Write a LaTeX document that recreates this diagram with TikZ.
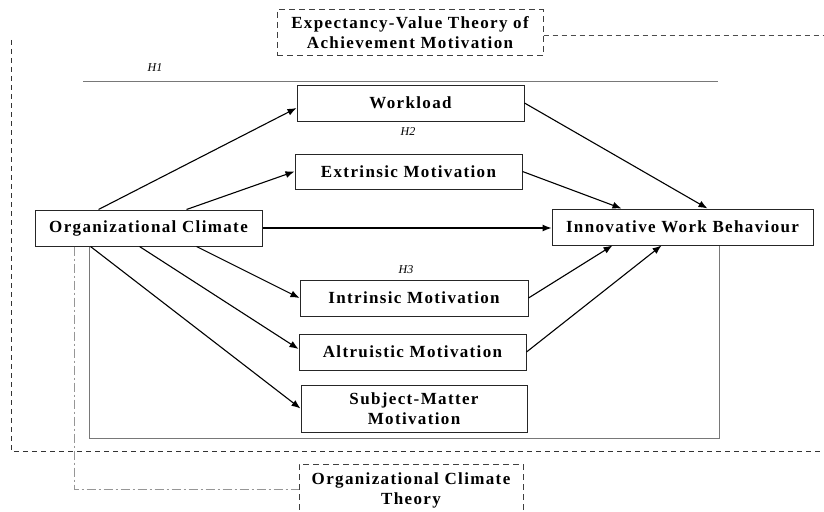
\documentclass[tikz,border=0pt]{standalone}
\usepackage{fontspec}
\setmainfont{Liberation Serif}
\newfontfamily\boxfont{Liberation Serif}[LetterSpace=8]
\usepackage{tikz}
\usetikzlibrary{arrows.meta,calc}
\definecolor{fb_grey}{RGB}{120, 120, 120}
\definecolor{dd_grey}{RGB}{150, 150, 150}
\tikzstyle{bx}=[rectangle,draw=black!85,line width=1pt,fill=white,
  inner sep=2pt,align=center,minimum height=36pt,
  font=\boxfont\bfseries\fontsize{17}{20}\selectfont]
\tikzstyle{th}=[bx,dash pattern=on 6pt off 4pt,draw=black!75]
\tikzstyle{hl}=[font=\itshape\fontsize{12}{14}\selectfont]
\tikzstyle{pth}=[line width=1.1pt,-{Latex[length=9pt,width=7pt]}]

\begin{document}
\begin{tikzpicture}[x=1pt, y=-1pt]
        \clip (0,0) rectangle (824,511);
        \node[style=th, minimum width=266pt, minimum height=46pt] (exp) at (410, 33) {Expectancy-Value Theory of\\Achievement Motivation};
		\node[style=bx, minimum width=227pt] (wl) at (410.5, 103) {Workload};
		\node[style=bx, minimum width=227pt, minimum height=35pt] (em) at (408.5, 171.5) {Extrinsic Motivation};
		\node[style=bx, minimum width=227pt] (oc) at (148.5, 228) {Organizational Climate};
		\node[style=bx, minimum width=261pt] (iwb) at (682.5, 227) {Innovative Work Behaviour};
		\node[style=bx, minimum width=228pt] (im) at (414, 298) {Intrinsic Motivation};
		\node[style=bx, minimum width=227pt] (am) at (412.5, 352) {Altruistic Motivation};
		\node[style=bx, minimum width=226pt, minimum height=47pt] (sm) at (414, 408.5) {Subject-Matter\\Motivation};
		\node[style=th, minimum width=224pt, minimum height=52pt] (oct) at (411, 490) {Organizational Climate\\Theory};
        \node[style=hl] (h1) at (155, 68) {H1};
        \node[style=hl] (h2) at (408, 132) {H2};
        \node[style=hl] (h3) at (406, 270) {H3};
		\coordinate (lt) at (11, 40);
		\coordinate (lb) at (11, 451);
		\coordinate (rb) at (824, 451);
		\coordinate (er) at (824, 36);
		\coordinate (h1l) at (83, 81);
		\coordinate (h1r) at (718, 81);
		\coordinate (fbl) at (89, 438);
		\coordinate (fbr) at (719, 438);
		\coordinate (ddc) at (74, 489);
        \draw [black!80, line width=1pt, dash pattern=on 5pt off 4pt] (lt) to (lb) to (rb);
		\draw [black!70, line width=1pt, dash pattern=on 5pt off 4pt] (er -| exp.east) to (er);
		\draw [dd_grey, line width=1pt, dash pattern=on 9pt off 3pt on 2pt off 3pt] (oc.south -| ddc) to (ddc) to (ddc -| oct.west);
		\draw [fb_grey, line width=0.9pt] (h1l) to (h1r);
		\draw [fb_grey, line width=0.9pt] (oc.south -| fbl) to (fbl) to (fbr) to (iwb.south -| fbr);
		\draw [style=pth] ($(oc.north west)+(64,0)$) to ($(wl.west)+(0,5)$);
		\draw [style=pth] ($(oc.north west)+(152,0)$) to (em.west);
		\draw [style=pth] (oc.east) to (oc.east -| iwb.west);
		\draw [style=pth] ($(oc.south west)+(162,0)$) to (im.west);
		\draw [style=pth] ($(oc.south west)+(105,0)$) to ($(am.west)+(0,-3)$);
		\draw [style=pth] ($(oc.south west)+(56,0)$) to (sm.west);
		\draw [style=pth] (wl.east) to ($(iwb.north west)+(156,0)$);
		\draw [style=pth] (em.east) to ($(iwb.north west)+(70,0)$);
		\draw [style=pth] (im.east) to ($(iwb.south west)+(61,0)$);
		\draw [style=pth] (am.east) to ($(iwb.south west)+(110,0)$);
    \end{tikzpicture}
\end{document}
